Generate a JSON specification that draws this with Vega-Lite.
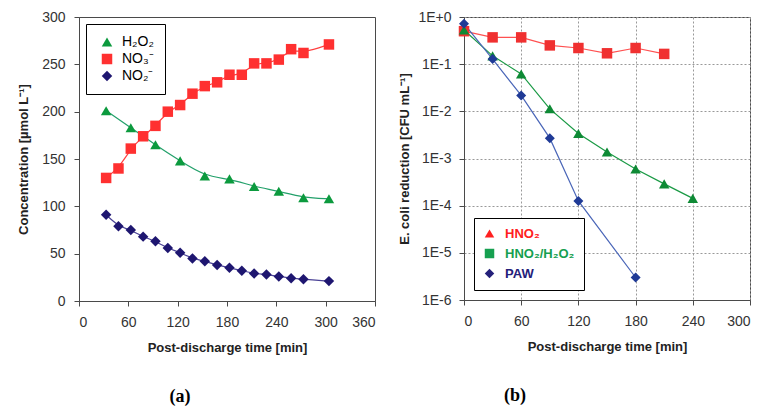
{
  "$schema": "https://vega.github.io/schema/vega-lite/v6.json",
  "padding": {"left": 17, "top": 9, "right": 5, "bottom": 5},
  "spacing": 22,
  "resolve": {"scale": {"color": "independent", "shape": "independent"}, "legend": {"color": "independent", "shape": "independent"}},
  "config": {
    "font": "Liberation Sans",
    "view": {"stroke": "#4a4a4a", "strokeWidth": 1},
    "axis": {"labelFont": "Liberation Sans", "labelFontSize": 14, "labelColor": "#333", "titleFont": "Liberation Sans", "titleFontSize": 13, "titleFontWeight": "bold", "titleColor": "#222", "domainColor": "#4a4a4a", "tickColor": "#4a4a4a", "tickSize": 5, "grid": false}
  },
  "datasets": {
    "a": [
      {"t": 33, "v": 201, "s": "H₂O₂"}, {"t": 63, "v": 183, "s": "H₂O₂"}, {"t": 93, "v": 165, "s": "H₂O₂"}, {"t": 123, "v": 148, "s": "H₂O₂"}, {"t": 153, "v": 132, "s": "H₂O₂"}, {"t": 183, "v": 129, "s": "H₂O₂"}, {"t": 213, "v": 121, "s": "H₂O₂"}, {"t": 243, "v": 116, "s": "H₂O₂"}, {"t": 273, "v": 109, "s": "H₂O₂"}, {"t": 304, "v": 108, "s": "H₂O₂"},
      {"t": 33, "v": 130, "s": "NO₃⁻"}, {"t": 48, "v": 140, "s": "NO₃⁻"}, {"t": 63, "v": 161, "s": "NO₃⁻"}, {"t": 78, "v": 174, "s": "NO₃⁻"}, {"t": 93, "v": 185, "s": "NO₃⁻"}, {"t": 108, "v": 200, "s": "NO₃⁻"}, {"t": 123, "v": 207, "s": "NO₃⁻"}, {"t": 138, "v": 219, "s": "NO₃⁻"}, {"t": 153, "v": 227, "s": "NO₃⁻"}, {"t": 168, "v": 231, "s": "NO₃⁻"}, {"t": 183, "v": 239, "s": "NO₃⁻"}, {"t": 198, "v": 239, "s": "NO₃⁻"}, {"t": 213, "v": 251, "s": "NO₃⁻"}, {"t": 228, "v": 251, "s": "NO₃⁻"}, {"t": 243, "v": 255, "s": "NO₃⁻"}, {"t": 258, "v": 266, "s": "NO₃⁻"}, {"t": 273, "v": 262, "s": "NO₃⁻"}, {"t": 304, "v": 271, "s": "NO₃⁻"},
      {"t": 33, "v": 91, "s": "NO₂⁻"}, {"t": 48, "v": 79, "s": "NO₂⁻"}, {"t": 63, "v": 75, "s": "NO₂⁻"}, {"t": 78, "v": 68, "s": "NO₂⁻"}, {"t": 93, "v": 63, "s": "NO₂⁻"}, {"t": 108, "v": 56, "s": "NO₂⁻"}, {"t": 123, "v": 51, "s": "NO₂⁻"}, {"t": 138, "v": 45, "s": "NO₂⁻"}, {"t": 153, "v": 42, "s": "NO₂⁻"}, {"t": 168, "v": 38, "s": "NO₂⁻"}, {"t": 183, "v": 35, "s": "NO₂⁻"}, {"t": 198, "v": 32, "s": "NO₂⁻"}, {"t": 213, "v": 29, "s": "NO₂⁻"}, {"t": 228, "v": 28, "s": "NO₂⁻"}, {"t": 243, "v": 26, "s": "NO₂⁻"}, {"t": 258, "v": 24, "s": "NO₂⁻"}, {"t": 273, "v": 23, "s": "NO₂⁻"}, {"t": 304, "v": 21, "s": "NO₂⁻"}
    ],
    "b": [
      {"t": 0, "v": 0.5, "s": "HNO₂"}, {"t": 30, "v": 0.37, "s": "HNO₂"}, {"t": 60, "v": 0.37, "s": "HNO₂"}, {"t": 90, "v": 0.25, "s": "HNO₂"}, {"t": 120, "v": 0.22, "s": "HNO₂"}, {"t": 150, "v": 0.17, "s": "HNO₂"}, {"t": 180, "v": 0.22, "s": "HNO₂"}, {"t": 210, "v": 0.165, "s": "HNO₂"},
      {"t": 0, "v": 0.53, "s": "HNO₂/H₂O₂"}, {"t": 30, "v": 0.15, "s": "HNO₂/H₂O₂"}, {"t": 60, "v": 0.062, "s": "HNO₂/H₂O₂"}, {"t": 90, "v": 0.0113, "s": "HNO₂/H₂O₂"}, {"t": 120, "v": 0.0034, "s": "HNO₂/H₂O₂"}, {"t": 150, "v": 0.00137, "s": "HNO₂/H₂O₂"}, {"t": 180, "v": 0.0006, "s": "HNO₂/H₂O₂"}, {"t": 210, "v": 0.00029, "s": "HNO₂/H₂O₂"}, {"t": 240, "v": 0.000143, "s": "HNO₂/H₂O₂"},
      {"t": 0, "v": 0.72, "s": "PAW"}, {"t": 30, "v": 0.128, "s": "PAW"}, {"t": 60, "v": 0.0217, "s": "PAW"}, {"t": 90, "v": 0.0027, "s": "PAW"}, {"t": 120, "v": 0.000126, "s": "PAW"}, {"t": 180, "v": 0.000003, "s": "PAW"}
    ]
  },
  "hconcat": [
    {
      "width": 296,
      "height": 284,
      "title": {"text": "(a)", "orient": "bottom", "anchor": "middle", "frame": "group", "dx": -47, "offset": 34, "font": "Liberation Serif", "fontSize": 18, "fontWeight": "bold", "color": "#000"},
      "data": {"name": "a"},
      "encoding": {
        "x": {"field": "t", "type": "quantitative", "scale": {"domain": [0, 360], "nice": false, "zero": false}, "axis": {"values": [0, 60, 120, 180, 240, 300, 360], "title": "Post-discharge time [min]", "labelPadding": 9, "titlePadding": 12}},
        "y": {"field": "v", "type": "quantitative", "scale": {"domain": [0, 300], "nice": false}, "axis": {"values": [0, 50, 100, 150, 200, 250, 300], "title": "Concentration [µmol L⁻¹]", "labelPadding": 9, "titlePadding": 11}}
      },
      "layer": [
        {"transform": [{"filter": "datum.s === 'H₂O₂'"}], "mark": {"type": "line", "interpolate": "basis", "color": "#22a06a", "strokeWidth": 1.2}},
        {"transform": [{"filter": "datum.s === 'NO₃⁻'"}], "mark": {"type": "line", "interpolate": "basis", "color": "#ff4040", "strokeWidth": 1.2}},
        {"transform": [{"filter": "datum.s === 'NO₂⁻'"}], "mark": {"type": "line", "interpolate": "basis", "color": "#4a4296", "strokeWidth": 1.2}},
        {
          "mark": {"type": "point", "filled": true, "opacity": 1, "size": 110},
          "encoding": {
            "color": {"field": "s", "type": "nominal", "scale": {"domain": ["H₂O₂", "NO₃⁻", "NO₂⁻"], "range": ["#0c9a3e", "#ff3030", "#1e1670"]},
              "legend": {"title": null, "orient": "top-left", "offset": 7, "strokeColor": "#000", "fillColor": "#fff", "padding": 11, "labelFont": "Liberation Sans", "labelFontSize": 14, "symbolSize": 110, "symbolStrokeWidth": 0, "symbolOffset": 3, "rowPadding": 3, "labelOffset": 8,
                "encode": {"labels": {"update": {"fill": {"signal": "datum.value === 'H₂O₂' ? '#0c9a3e' : datum.value === 'NO₃⁻' ? '#ff3030' : '#1e1670'"}}}}}},
            "shape": {"field": "s", "type": "nominal", "scale": {"domain": ["H₂O₂", "NO₃⁻", "NO₂⁻"], "range": ["triangle-up", "square", "diamond"]}}
          }
        }
      ]
    },
    {
      "width": 286,
      "height": 283,
      "title": {"text": "(b)", "orient": "bottom", "anchor": "middle", "frame": "group", "dx": -92, "offset": 34, "font": "Liberation Serif", "fontSize": 18, "fontWeight": "bold", "color": "#000"},
      "data": {"name": "b"},
      "encoding": {
        "x": {"field": "t", "type": "quantitative", "scale": {"domain": [0, 300], "nice": false, "zero": false}, "axis": {"values": [0, 60, 120, 180, 240, 300], "title": "Post-discharge time [min]", "labelPadding": 9, "titlePadding": 12, "grid": true, "gridDash": [2, 2], "gridColor": "#999"}},
        "y": {"field": "v", "type": "quantitative", "scale": {"type": "log", "domain": [0.000001, 1], "nice": false}, "axis": {"values": [0.000001, 0.00001, 0.0001, 0.001, 0.01, 0.1, 1], "labelExpr": "upper(format(datum.value, '.0e'))", "title": "E. coli reduction [CFU mL⁻¹]", "labelPadding": 8, "titlePadding": 6, "grid": true, "gridDash": [2, 2], "gridColor": "#999"}}
      },
      "layer": [
        {"transform": [{"filter": "datum.s === 'HNO₂'"}], "mark": {"type": "line", "color": "#ff5050", "strokeWidth": 1.2}},
        {"transform": [{"filter": "datum.s === 'HNO₂/H₂O₂'"}], "mark": {"type": "line", "color": "#1a9a45", "strokeWidth": 1.2}},
        {"transform": [{"filter": "datum.s === 'PAW'"}], "mark": {"type": "line", "color": "#4a66b8", "strokeWidth": 1.2}},
        {"transform": [{"filter": "datum.s === 'HNO₂'"}], "mark": {"type": "point", "filled": true, "opacity": 1, "shape": "square", "size": 110, "color": "#f03030"}},
        {"transform": [{"filter": "datum.s === 'HNO₂/H₂O₂'"}], "mark": {"type": "point", "filled": true, "opacity": 1, "shape": "triangle-up", "size": 110, "color": "#0e8a35"}},
        {"transform": [{"filter": "datum.s === 'PAW'"}], "mark": {"type": "point", "filled": true, "opacity": 1, "shape": "diamond", "size": 100, "color": "#1f3a96"}},
        {
          "mark": {"type": "point", "filled": true, "opacity": 0, "size": 90},
          "encoding": {
            "color": {"field": "s", "type": "nominal", "scale": {"domain": ["HNO₂", "HNO₂/H₂O₂", "PAW"], "range": ["#ff2020", "#16a050", "#24207a"]},
              "legend": {"title": null, "orient": "bottom-left", "offset": 10, "strokeColor": "#000", "fillColor": "#fff", "padding": 9, "labelFont": "Liberation Sans", "labelFontSize": 13, "labelFontWeight": "bold", "symbolSize": 90, "symbolStrokeWidth": 0, "rowPadding": 6, "labelOffset": 9,
                "encode": {"symbols": {"update": {"opacity": {"value": 1}}}, "labels": {"update": {"fill": {"signal": "datum.value === 'HNO₂' ? '#ff2020' : datum.value === 'PAW' ? '#24207a' : '#16a050'"}}}}}},
            "shape": {"field": "s", "type": "nominal", "scale": {"domain": ["HNO₂", "HNO₂/H₂O₂", "PAW"], "range": ["triangle-up", "square", "diamond"]}}
          }
        }
      ]
    }
  ]
}
